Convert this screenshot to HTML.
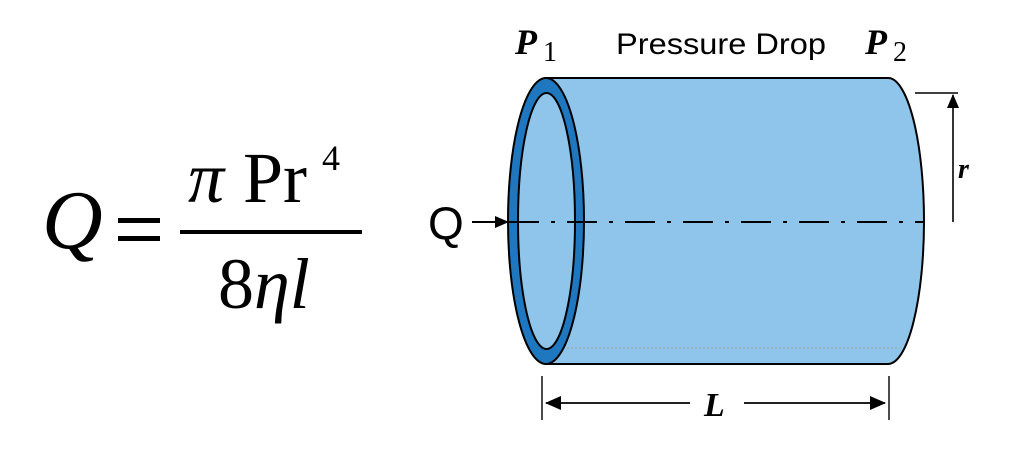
<!DOCTYPE html>
<html><head><meta charset="utf-8"><style>
html,body{margin:0;padding:0;background:#fff;width:1024px;height:457px;overflow:hidden}
</style></head><body>
<svg width="1024" height="457" viewBox="0 0 1024 457" xmlns="http://www.w3.org/2000/svg">
<defs>
<marker id="ah" markerWidth="14" markerHeight="12" refX="13" refY="6" orient="auto" markerUnits="userSpaceOnUse">
<path d="M0,0 L14,6 L0,12 Z" fill="#000"/></marker>
<marker id="ah2" markerWidth="16" markerHeight="14" refX="15" refY="7" orient="auto" markerUnits="userSpaceOnUse">
<path d="M0,0 L16,7 L0,14 Z" fill="#000"/></marker>
</defs>
<!-- formula -->
<g font-family="Liberation Serif, serif" fill="#000">
<text x="42" y="248" font-size="84" font-style="italic">Q</text>
<rect x="118" y="218" width="42" height="5"/>
<rect x="118" y="236" width="42" height="5"/>
<rect x="180" y="230" width="182" height="4"/>
<text x="188" y="202" font-size="72" font-style="italic">π</text>
<text x="243" y="202" font-size="72">Pr</text>
<text x="322" y="170" font-size="36">4</text>
<text x="218" y="308" font-size="72">8<tspan font-style="italic">ηl</tspan></text>
</g>
<!-- cylinder body -->
<path d="M546,78 L888,78 A36,143 0 0 1 888,364 L546,364 Z" fill="#8fc5ea" stroke="#000" stroke-width="2"/>
<line x1="567" y1="348" x2="900" y2="348" stroke="#9aa" stroke-width="1.2" stroke-dasharray="2,2"/>
<ellipse cx="546" cy="221" rx="38" ry="143" fill="#1f78bf" stroke="#000" stroke-width="2"/>
<ellipse cx="546.5" cy="221" rx="28.5" ry="128" fill="#8fc5ea" stroke="#000" stroke-width="2"/>
<!-- centerline -->
<line x1="509" y1="222" x2="925" y2="222" stroke="#000" stroke-width="2" stroke-dasharray="30,12,4,12"/>
<!-- Q arrow -->
<text x="428" y="239" font-family="Liberation Sans, sans-serif" font-size="46" fill="#000">Q</text>
<line x1="472" y1="222" x2="508" y2="222" stroke="#000" stroke-width="2" marker-end="url(#ah)"/>
<!-- r -->
<line x1="915" y1="93" x2="958" y2="93" stroke="#000" stroke-width="1.6"/>
<line x1="953" y1="222" x2="953" y2="95" stroke="#000" stroke-width="1.6" marker-end="url(#ah)"/>
<text x="958" y="178" font-family="Liberation Serif, serif" font-size="28" font-style="italic" font-weight="bold">r</text>
<!-- L -->
<line x1="542" y1="376" x2="542" y2="420" stroke="#000" stroke-width="1.4"/>
<line x1="889" y1="376" x2="889" y2="420" stroke="#000" stroke-width="1.4"/>
<line x1="690" y1="403" x2="546" y2="403" stroke="#000" stroke-width="1.8" marker-end="url(#ah2)"/>
<line x1="744" y1="403" x2="885" y2="403" stroke="#000" stroke-width="1.8" marker-end="url(#ah2)"/>
<text x="704" y="416" font-family="Liberation Serif, serif" font-size="34" font-style="italic" font-weight="bold">L</text>
<!-- labels -->
<text x="515" y="54" font-family="Liberation Serif, serif" font-size="36" font-style="italic" font-weight="bold">P</text>
<text x="543" y="61" font-family="Liberation Serif, serif" font-size="28">1</text>
<text x="865" y="54" font-family="Liberation Serif, serif" font-size="36" font-style="italic" font-weight="bold">P</text>
<text x="893" y="61" font-family="Liberation Serif, serif" font-size="28">2</text>
<text x="616" y="54" font-family="Liberation Sans, sans-serif" font-size="30" textLength="210" lengthAdjust="spacingAndGlyphs">Pressure Drop</text>
</svg>
</body></html>
